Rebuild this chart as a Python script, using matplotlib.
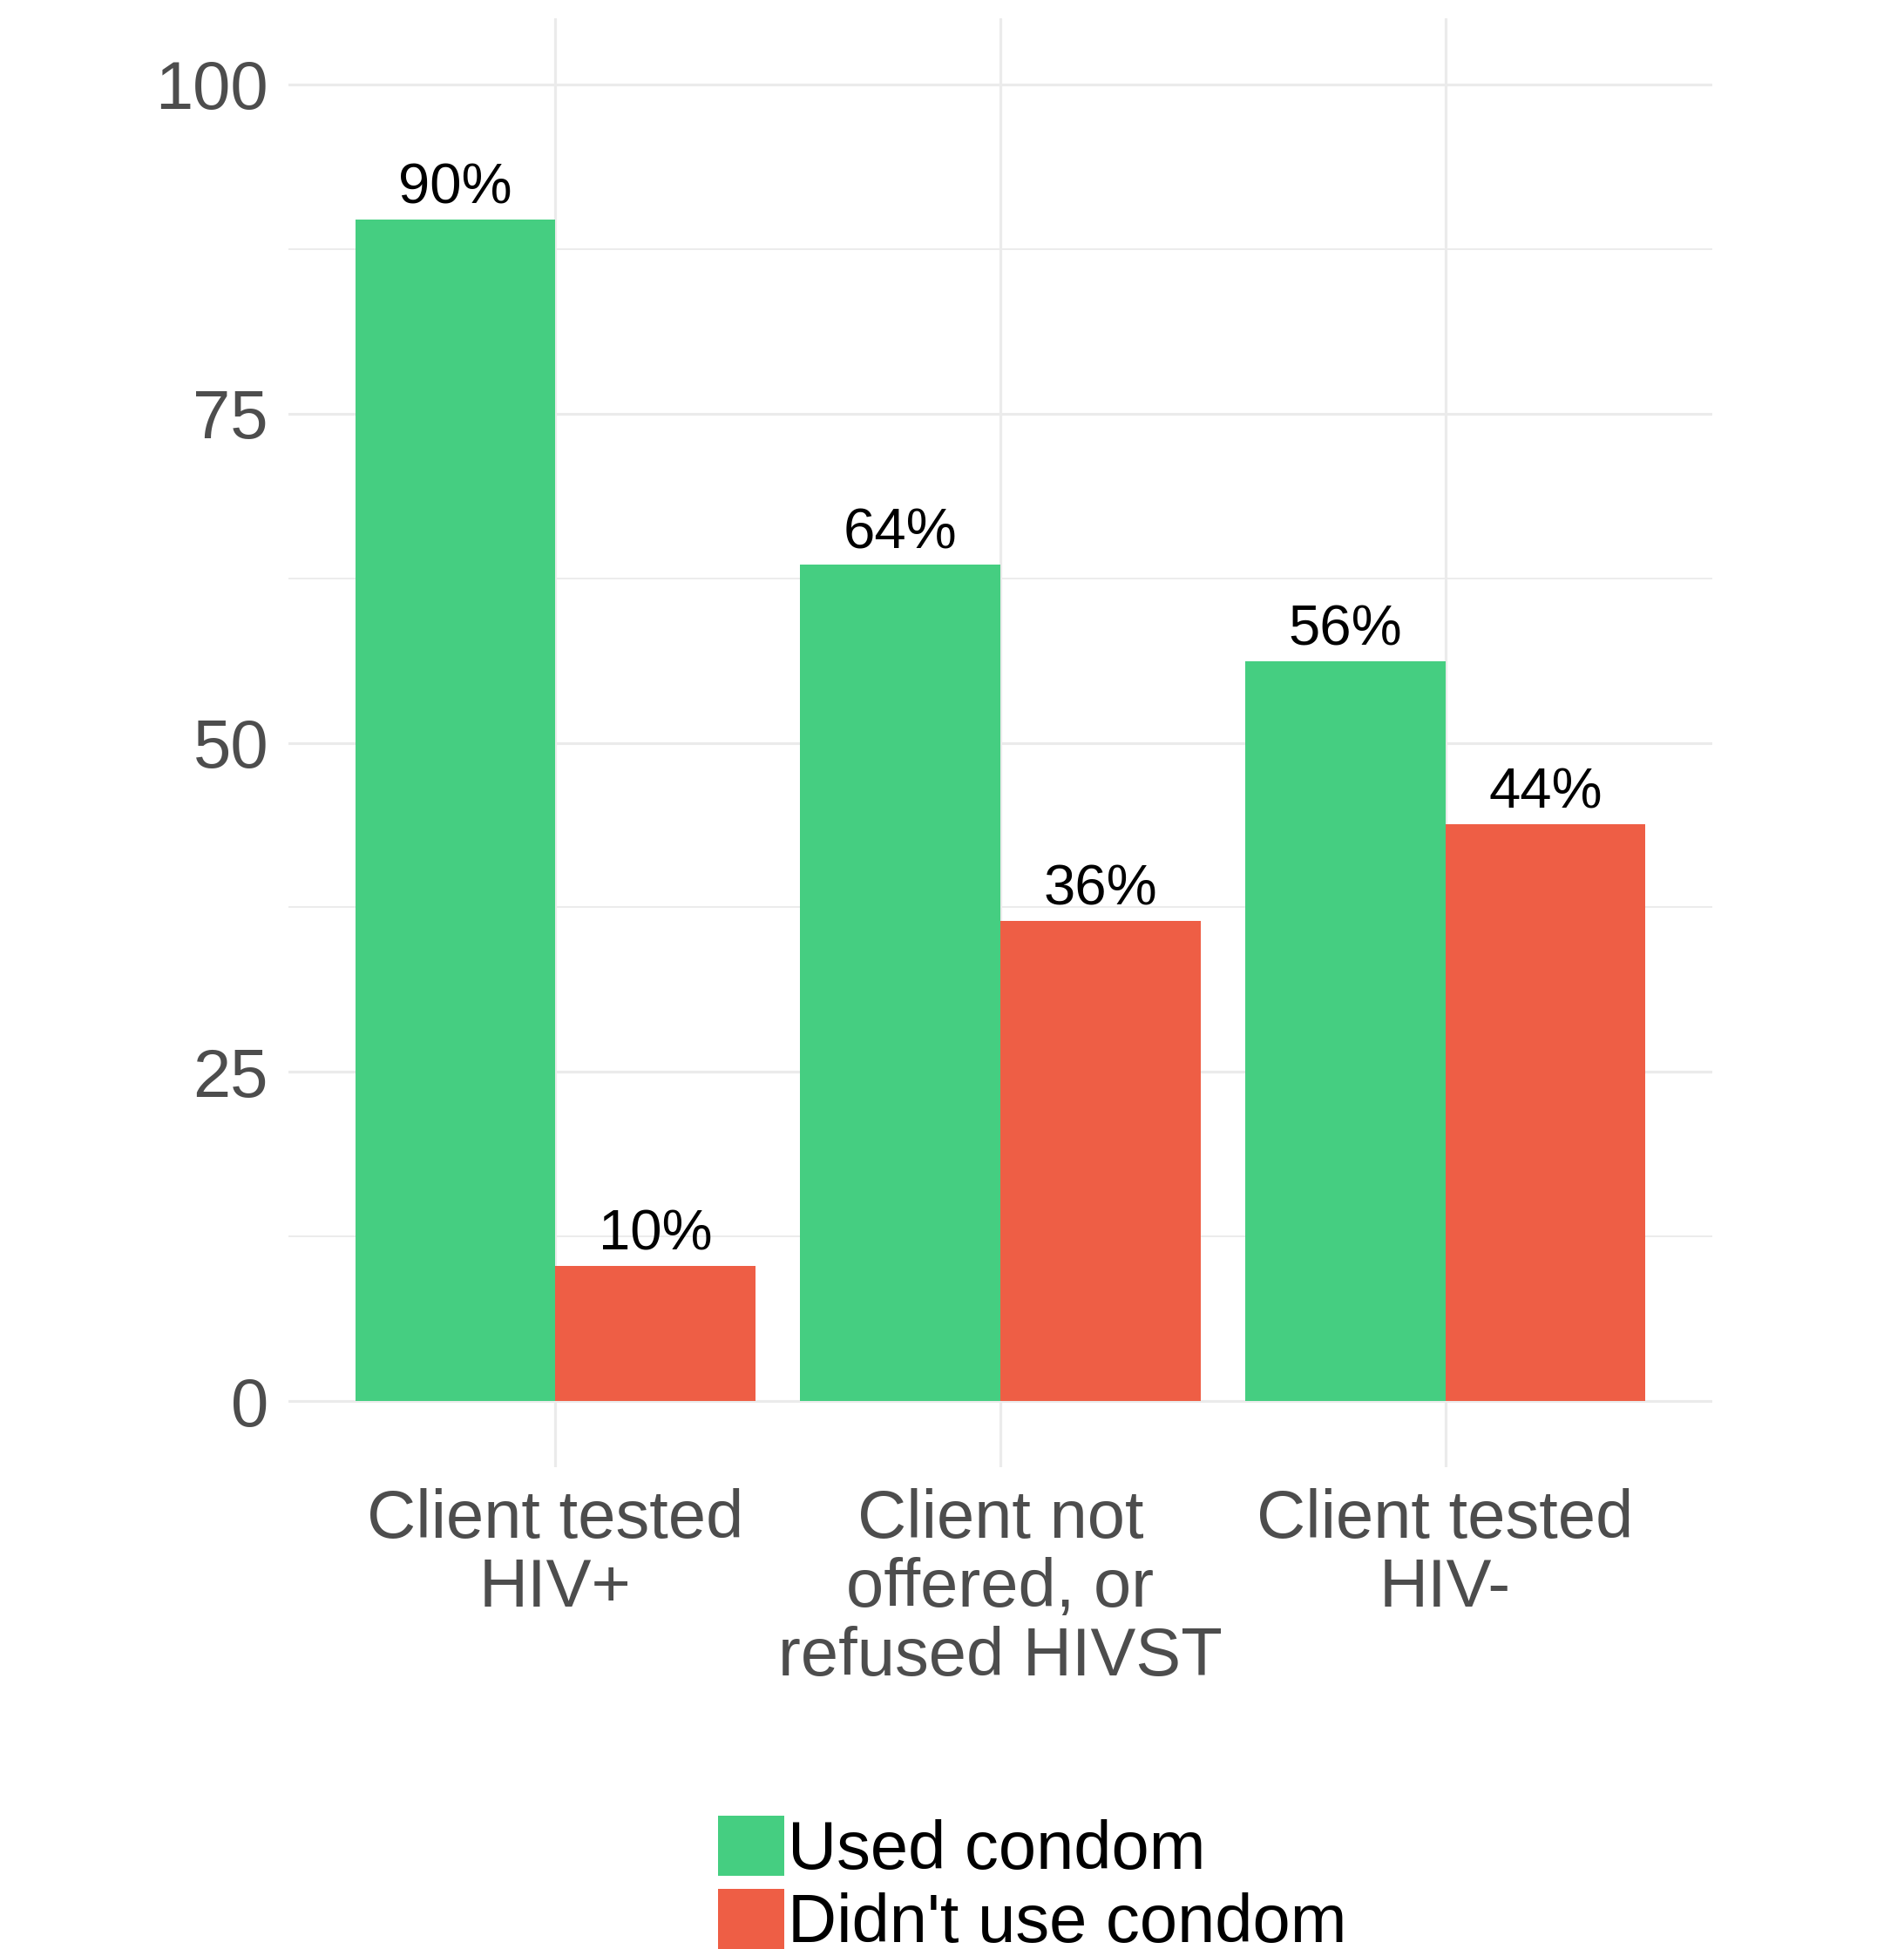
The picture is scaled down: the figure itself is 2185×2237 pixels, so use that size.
import matplotlib
matplotlib.use("Agg")
import matplotlib.pyplot as plt
from matplotlib.patches import Patch
import numpy as np

# data
categories = ["Client tested\nHIV+", "Client not\noffered, or\nrefused HIVST", "Client tested\nHIV-"]
used_condom = [89.7, 63.5, 56.2]
no_condom = [10.3, 36.5, 43.8]
series_names = ["Used condom", "Didn't use condom"]
y_ticks = [0, 25, 50, 75, 100]

green = "#45CE81"
red = "#EE5E45"
grid_col = "#EBEBEB"

plt.rcParams['font.family'] = ['Liberation Sans', 'DejaVu Sans']

fig = plt.figure(figsize=(21.85, 22.37), dpi=100)
ax = fig.add_axes([0.1515, 0.2472, 0.8993 - 0.1515, 0.9906 - 0.2472])

x = np.arange(1, len(categories) + 1)
w = 0.45
b1 = ax.bar(x - w / 2, used_condom, width=w, color=green, zorder=3)
b2 = ax.bar(x + w / 2, no_condom, width=w, color=red, zorder=3)

for bars, vals in ((b1, used_condom), (b2, no_condom)):
    for r, v in zip(bars, vals):
        ax.annotate(f"{round(v)}%", (r.get_x() + r.get_width() / 2, v),
                    xytext=(0, 4), textcoords="offset points",
                    ha="center", va="bottom", fontsize=47, color="black", zorder=4)

ax.set_xlim(0.4, 3.6)
ax.set_ylim(-5, 105)
ax.set_xticks(x)
ax.set_xticklabels(categories, fontsize=56, color="#4D4D4D", linespacing=1.11)
ax.set_yticks(y_ticks)
ax.set_yticklabels([str(t) for t in y_ticks], fontsize=56, color="#4D4D4D")
ax.set_yticks([12.5, 37.5, 62.5, 87.5], minor=True)
ax.tick_params(axis="both", which="both", length=0)
ax.tick_params(axis="x", pad=17)
ax.tick_params(axis="y", pad=16.5)

ax.grid(True, which="major", axis="both", color=grid_col, linewidth=2.3, zorder=0)
ax.grid(True, which="minor", axis="y", color=grid_col, linewidth=1.3, zorder=0)
ax.set_axisbelow(True)
for s in ax.spines.values():
    s.set_visible(False)

handles = [Patch(facecolor=green, edgecolor="none"), Patch(facecolor=red, edgecolor="none")]
fig.legend(handles, series_names, loc="upper left", bbox_to_anchor=(824 / 2185, 1 - 2084 / 2237),
           frameon=False, fontsize=56, handlelength=0.98, handleheight=0.98,
           handletextpad=0.05, labelspacing=0.09, borderpad=0, borderaxespad=0)

fig.savefig("out.png", dpi=100)
